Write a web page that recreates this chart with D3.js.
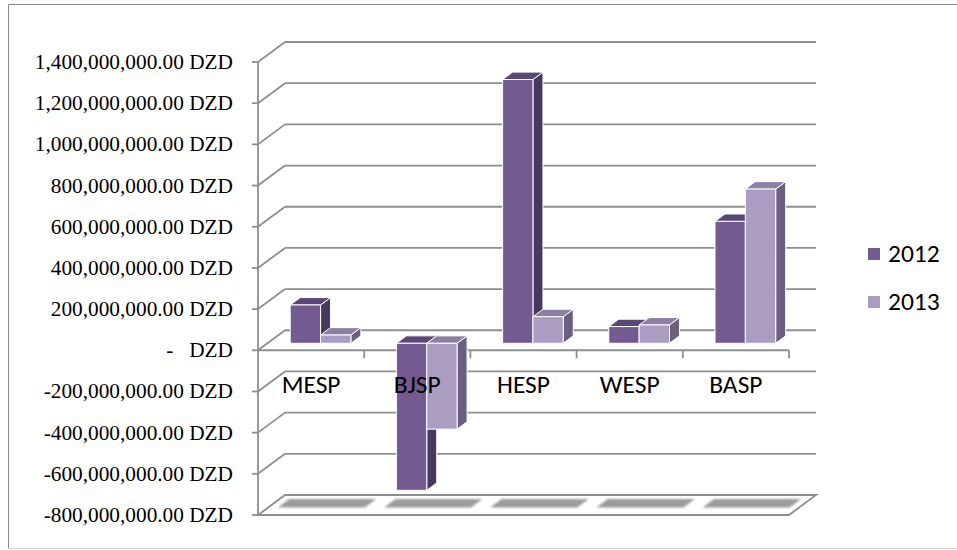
<!DOCTYPE html>
<html>
<head>
<meta charset="utf-8">
<script src="https://cdn.jsdelivr.net/npm/d3@7"></script>
<style>
  html, body { margin: 0; padding: 0; background: #fff; }
  svg { display: block; }
  .ylab { font-family: "Liberation Serif", "Times New Roman", serif; font-size: 21.3px; fill: #000; white-space: pre; }
  .xlab, .leg { font-family: Carlito, Calibri, "Liberation Sans", Arial, sans-serif; font-size: 25.5px; fill: #000; }
</style>
</head>
<body>
<svg id="chart" width="957" height="550"></svg>
<script>
// Program results by unit, in DZD
const categories = ["MESP", "BJSP", "HESP", "WESP", "BASP"];
const seriesNames = ["2012", "2013"];
const values2012 = [186e6, -714e6, 1281e6, 81e6, 592e6];
const values2013 = [40e6, -417e6, 129e6, 89e6, 749e6];
const yTickValues = [-800e6, -600e6, -400e6, -200e6, 0, 200e6, 400e6, 600e6, 800e6, 1000e6, 1200e6, 1400e6];

const seriesValues = [values2012, values2013];
const faceColors = {
  "2012": { front: "#735a91", side: "#47385f", top: "#5a4779" },
  "2013": { front: "#ab9cc1", side: "#6b5f80", top: "#8c7fa3" }
};

const svg = d3.select("#chart");

// plot geometry: front plane plus an oblique depth offset
const DX = 27, DY = -20;
const x = d3.scaleBand().domain(categories).range([258, 789]).paddingInner(0).paddingOuter(0);
const xs = d3.scaleBand().domain(seriesNames).range([0, x.bandwidth()]).paddingInner(0).paddingOuter(0.75);
const y = d3.scaleLinear().domain([-800e6, 1400e6]).range([515, 62]);
const yMin = y.domain()[0];

const P = (px, v, d) => [px + DX * d, y(v) + DY * d];
const poly = pts => "M" + pts.map(p => p[0].toFixed(2) + "," + p[1].toFixed(2)).join("L") + "Z";

const gridColor = "#8e8e8e";
const xL = x.range()[0], xR = x.range()[1];

// outer frame
svg.append("line").attr("x1", 8.5).attr("y1", 4.5).attr("x2", 8.5).attr("y2", 548.5).attr("stroke", "#8a8a8a");
svg.append("line").attr("x1", 8.5).attr("y1", 4.5).attr("x2", 957).attr("y2", 4.5).attr("stroke", "#8a8a8a");
svg.append("line").attr("x1", 8.5).attr("y1", 548.5).attr("x2", 957).attr("y2", 548.5).attr("stroke", "#d8d8d8");

const defs = svg.append("defs");
defs.append("filter").attr("id", "soft").attr("x", "-20%").attr("y", "-60%").attr("width", "140%").attr("height", "220%")
  .append("feGaussianBlur").attr("stdDeviation", 1.3);

// back wall gridlines and left wall diagonals
const grid = svg.append("g").attr("stroke", gridColor).attr("stroke-width", 1.8).attr("fill", "none");
yTickValues.forEach(v => {
  if (v === yMin) return;
  const a = P(xL, v, 1), b = P(xR, v, 1);
  grid.append("line").attr("x1", a[0]).attr("y1", a[1]).attr("x2", b[0]).attr("y2", b[1]);
  const f = P(xL, v, 0);
  grid.append("line").attr("x1", f[0]).attr("y1", f[1]).attr("x2", a[0]).attr("y2", a[1]);
});

// floor
const floorPts = [P(xL, yMin, 0), P(xR, yMin, 0), P(xR, yMin, 1), P(xL, yMin, 1)];
svg.append("path").attr("d", poly(floorPts)).attr("fill", "#fff").attr("stroke", gridColor).attr("stroke-width", 1.8);

// soft shadows cast onto the floor
const shadows = svg.append("g").attr("filter", "url(#soft)");
categories.forEach(c => {
  const x0 = x(c) + x.bandwidth() * 0.09, x1 = x(c) + x.bandwidth() * 0.91;
  shadows.append("path")
    .attr("d", poly([P(x0, yMin, 0.38), P(x1, yMin, 0.38), P(x1, yMin, 0.8), P(x0, yMin, 0.8)]))
    .attr("fill", "#9c9c9c");
});

// vertical axis with ticks
const axisG = svg.append("g").attr("stroke", gridColor).attr("stroke-width", 1.8);
axisG.append("line").attr("x1", xL).attr("y1", y(1400e6)).attr("x2", xL).attr("y2", y(yMin));
yTickValues.forEach(v => {
  axisG.append("line").attr("x1", xL - 6).attr("x2", xL).attr("y1", y(v)).attr("y2", y(v));
});

// horizontal axis at zero on the front plane
axisG.append("line").attr("x1", xL).attr("x2", xR).attr("y1", y(0)).attr("y2", y(0));
categories.forEach(c => {
  const tx = x(c) + x.bandwidth();
  axisG.append("line").attr("x1", tx).attr("x2", tx).attr("y1", y(0)).attr("y2", y(0) + 8);
});

// value labels in accounting style (plain hyphen for negatives)
const locale = d3.formatLocale({ decimal: ".", thousands: ",", grouping: [3], currency: ["", ""], minus: "-" });
const fmt = locale.format(",.2f");
svg.append("g").selectAll("text").data(yTickValues).join("text")
  .attr("class", "ylab")
  .attr("x", 233).attr("y", d => y(d)).attr("dy", "0.33em")
  .attr("text-anchor", "end")
  .text(d => d === 0 ? "-   DZD" : fmt(d) + " DZD");

// 3D columns
const D0 = 0.35, D1 = 0.72;
const bars = svg.append("g").attr("stroke", "#fff").attr("stroke-width", 1).attr("stroke-linejoin", "round");
categories.forEach((c, i) => {
  seriesNames.forEach((s, j) => {
    const v = seriesValues[j][i];
    const x0 = x(c) + xs(s), x1 = x0 + xs.bandwidth();
    const top = Math.max(0, v), bot = Math.min(0, v);
    const col = faceColors[s];
    const g = bars.append("g");
    g.append("path").attr("fill", col.side)
      .attr("d", poly([P(x1, top, D0), P(x1, top, D1), P(x1, bot, D1), P(x1, bot, D0)]));
    g.append("path").attr("fill", col.top)
      .attr("d", poly([P(x0, top, D0), P(x1, top, D0), P(x1, top, D1), P(x0, top, D1)]));
    g.append("path").attr("fill", col.front)
      .attr("d", poly([P(x0, top, D0), P(x1, top, D0), P(x1, bot, D0), P(x0, bot, D0)]));
  });
});

// category labels
svg.append("g").selectAll("text").data(categories).join("text")
  .attr("class", "xlab")
  .attr("x", d => x(d) + x.bandwidth() / 2)
  .attr("y", 393)
  .attr("text-anchor", "middle")
  .text(d => d);

// legend
const legend = svg.append("g");
seriesNames.forEach((s, j) => {
  const ly = 248 + j * 48;
  legend.append("rect").attr("x", 868).attr("y", ly).attr("width", 12).attr("height", 12).attr("fill", faceColors[s].front);
  legend.append("text").attr("class", "leg").attr("x", 888).attr("y", ly + 14).text(s);
});
</script>
</body>
</html>
